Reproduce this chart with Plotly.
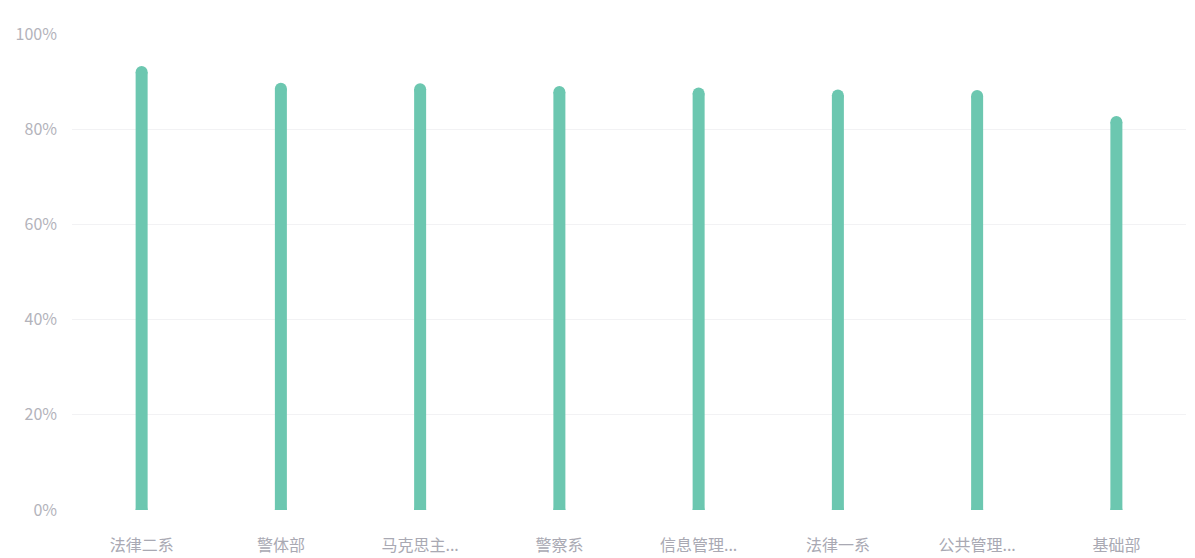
import plotly.graph_objects as go

departments = ["法律二系", "警体部", "马克思主...", "警察系", "信息管理...", "法律一系", "公共管理...", "基础部"]
rates = [92.0, 88.5, 88.4, 87.8, 87.5, 87.1, 87.0, 81.5]
y_ticks = [0, 20, 40, 60, 80, 100]
y_labels = ["0%", "20%", "40%", "60%", "80%", "100%"]

bar_color = "#6cc7b0"

# each bar drawn as a thick line segment from 0 to value, round markers give the caps
xs, ys = [], []
for d, r in zip(departments, rates):
    xs += [d, d, None]
    ys += [0, r, None]

fig = go.Figure()
fig.add_trace(go.Scatter(
    x=xs, y=ys, mode="lines+markers",
    line=dict(color=bar_color, width=12),
    marker=dict(color=bar_color, size=12, symbol="circle"),
    hoverinfo="skip", showlegend=False,
))

# page body has an 8px margin, so the figure is a bit smaller than the window
fig.update_layout(
    width=1187, height=550,
    margin=dict(l=64, r=9, t=26, b=48),
    paper_bgcolor="white", plot_bgcolor="white",
    font=dict(family="Noto Sans CJK SC, Noto Sans, sans-serif", size=14, color="#b3b3bb"),
    xaxis=dict(
        type="category", categoryorder="array", categoryarray=departments,
        range=[-0.5, len(departments) - 0.5], automargin=False,
        showgrid=False, zeroline=False, showline=False, ticks="",
        ticklabelstandoff=24,
        tickfont=dict(size=16, color="#a9a9b3"),
    ),
    yaxis=dict(
        range=[0, 100], tickmode="array", tickvals=y_ticks, ticktext=y_labels,
        automargin=False,
        showgrid=True, gridcolor="#f2f2f4", gridwidth=1, zeroline=False,
        showline=False, ticks="", ticklabelstandoff=14,
        tickfont=dict(size=16, color="#b3b3bb"),
    ),
)

fig.write_html("out.html")
